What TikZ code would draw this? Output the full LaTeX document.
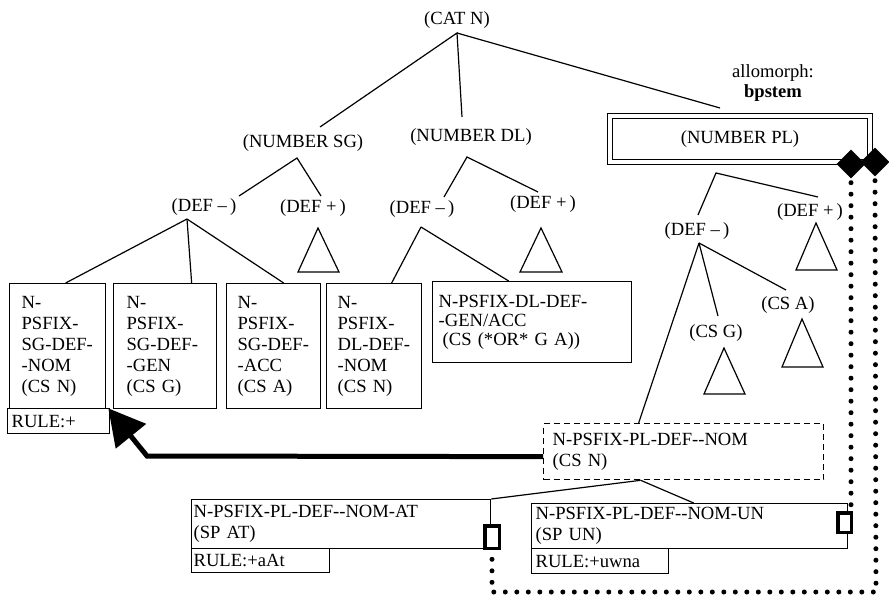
\documentclass[tikz,border=0pt]{standalone}
\usepackage{fontspec}
\setmainfont{Liberation Serif}
\usetikzlibrary{arrows.meta,shapes.geometric}
\hyphenpenalty=10000 \exhyphenpenalty=10000
\begin{document}
\begin{tikzpicture}[x=1pt,y=-1pt,
  f/.style={font=\fontsize{18.6}{21}\selectfont},
  lbl/.style={f, inner sep=0pt},
  bx/.style={f, draw, line width=1.3pt, align=left, anchor=north west, inner ysep=0pt},
  tl/.style={line width=1.2pt},
  dotl/.style={line width=5pt, line cap=round, dash pattern=on 0pt off 11.5pt},
  sbox/.style={draw, line width=3.5pt, fill=white, inner sep=0pt},
  dia/.style={diamond, fill=black, inner sep=0pt, minimum width=29pt, minimum height=29pt}]
\useasboundingbox (0,0) rectangle (889,599);

% ---------- tree labels ----------
\node[lbl] (cat) at (457,20) {(CAT N)};
\node[lbl] (nsg) at (303,143) {(NUMBER SG)};
\node[lbl] (ndl) at (471,137) {(NUMBER DL)};
\node[f, draw, line width=1.3pt, double, double distance=3.7pt, minimum width=260pt, minimum height=46pt, inner sep=0pt] (npl) at (740,139) {(NUMBER PL)};
\node[lbl, align=center, font=\fontsize{18.6}{20}\selectfont] (allo) at (773,83) {allomorph:\\\textbf{bpstem}};

\node[lbl] (sgdm) at (204,207) {(DEF –\,)};
\node[lbl] (sgdp) at (313,208) {(DEF +\,)};
\node[lbl] (dldm) at (422,209) {(DEF –\,)};
\node[lbl] (dldp) at (543,204) {(DEF +\,)};
\node[lbl] (pldm) at (697,231) {(DEF –\,)};
\node[lbl] (pldp) at (810,212) {(DEF +\,)};
\node[lbl] (csg) at (716,333) {(CS G)};
\node[lbl] (csa) at (788,305) {(CS A)};

% ---------- attachment points ----------
\coordinate (catA) at (457,33);
\coordinate (sgT) at (320,127);
\coordinate (dlT) at (462,117);
\coordinate (plT) at (720,108);
\coordinate (sgA) at (297,158);
\coordinate (sgdmT) at (239,196);
\coordinate (sgdpT) at (321,196);
\coordinate (dlA) at (467,157);
\coordinate (dldmT) at (444,197);
\coordinate (dldpT) at (538,192);
\coordinate (plA) at (716,173);
\coordinate (pldmT) at (698,215);
\coordinate (pldpT) at (818,197);
\coordinate (sgdmA) at (187,219);
\coordinate (dldmA) at (421,227);
\coordinate (pldmA) at (699,243);
\coordinate (csgT) at (718,316);
\coordinate (csaT) at (786,290);

\draw[tl] (sgT) -- (catA) -- (dlT);
\draw[tl] (catA) -- (plT);
\draw[tl] (sgdmT) -- (sgA) -- (sgdpT);
\draw[tl] (dldmT) -- (dlA) -- (dldpT);
\draw[tl] (pldmT) -- (plA) -- (pldpT);

% ---------- triangles ----------
\draw[tl] (318,228) -- (298,272) -- (339,272) -- cycle;
\draw[tl] (541,228) -- (520,272) -- (562,272) -- cycle;
\draw[tl] (816,223) -- (796,270) -- (837,270) -- cycle;
\draw[tl] (724,348) -- (704,394) -- (745,394) -- cycle;
\draw[tl] (802,319) -- (782,367) -- (823,367) -- cycle;

% ---------- boxes ----------
\node[bx, text width=72pt, inner xsep=12pt, minimum height=125pt] (b1) at (9,283) {N-\\PSFIX-\\SG-DEF-\\-NOM\\(CS N)};
\node[bx, text width=77pt, inner xsep=13pt, minimum height=125pt] (b2) at (113,283) {N-\\PSFIX-\\SG-DEF-\\-GEN\\(CS G)};
\node[bx, text width=72pt, inner xsep=11pt, minimum height=125pt] (b3) at (226,283) {N-\\PSFIX-\\SG-DEF-\\-ACC\\(CS A)\\[-6pt]};
\node[bx, text width=73pt, inner xsep=11pt, minimum height=125pt] (b4) at (326,283) {N-\\PSFIX-\\DL-DEF-\\-NOM\\(CS N)};
\node[bx, font=\fontsize{18.6}{19}\selectfont, text width=187pt, inner xsep=6pt, minimum height=81pt] (b5) at (432,281) {N-PSFIX-DL-DEF-\\-GEN/ACC\\\hspace*{4pt}(CS (*OR* G A))};
\node[bx, text width=94pt, inner xsep=4pt, minimum height=25pt] (r1) at (7,408) {RULE:+};

\draw[tl] (sgdmA) -- ([xshift=8pt]b1.north);
\draw[tl] (sgdmA) -- ([xshift=26.5pt]b2.north);
\draw[tl] (sgdmA) -- ([xshift=10pt]b3.north);
\draw[tl] (dldmA) -- ([xshift=17.5pt]b4.north);
\draw[tl] (dldmA) -- ([xshift=-23.5pt]b5.north);

\node[bx, dashed, dash pattern=on 6pt off 4pt, text width=262pt, inner xsep=9pt, minimum height=56pt] (dbox) at (543,423) {N-PSFIX-PL-DEF-{}-NOM\\(CS N)};
\draw[tl] (pldmA) -- ([xshift=-45pt]dbox.north);
\draw[tl] (pldmA) -- (csgT);
\draw[tl] (pldmA) -- (csaT);

\node[bx, text width=295pt, inner xsep=2pt, minimum height=49pt] (at) at (191,499) {N-PSFIX-PL-DEF-{}-NOM-AT\\(SP AT)};
\node[bx, text width=308pt, inner xsep=4pt, minimum height=45pt] (un) at (531,503) {N-PSFIX-PL-DEF-{}-NOM-UN\\(SP UN)};
\node[bx, text width=134pt, inner xsep=2pt, minimum height=24pt] (rat) at (191,548) {RULE:+aAt};
\node[bx, text width=129pt, inner xsep=4pt, minimum height=25pt] (run) at (531,548) {RULE:+uwna};

\coordinate (dA) at ([xshift=-43pt]dbox.south);
\draw[tl] (dA) -- (at.north east);
\draw[tl] (dA) -- ([xshift=4pt]un.north);

% ---------- dotted links ----------
\node[dia] (dm1) at (851,164) {};
\node[dia] (dm2) at (875,162) {};
\coordinate (dotbot) at (876,592);
\draw[dotl] ([yshift=-4pt]dm1.south) -- (dm1.south |- 0,510);
\draw[dotl] ([yshift=-4pt]dm2.south) -- (dotbot) -| (492,552);

\node[sbox, minimum width=14.5pt, minimum height=22.5pt] (sat) at (492,537) {};
\node[sbox, minimum width=13.5pt, minimum height=19.5pt] (sun) at (844.5,522.5) {};

% ---------- thick arrow ----------
\coordinate (abend) at (147,456);
\draw[line width=5pt, line join=miter, -{Triangle[length=36pt,width=38pt]}] ([yshift=-5pt]dbox.west) -- (abend) -- ([shift={(2pt,1pt)}]b1.south east);
\end{tikzpicture}
\end{document}
